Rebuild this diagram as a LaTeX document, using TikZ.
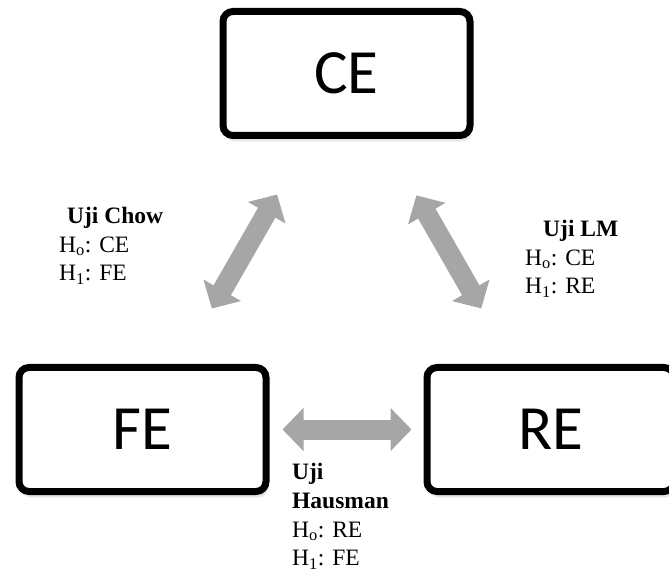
\documentclass[tikz,border=0pt]{standalone}
\usepackage{fontspec}
\setmainfont{Liberation Serif}
\newfontfamily\boxfont{Carlito}
\usetikzlibrary{positioning,calc,arrows.meta,shadows}
\definecolor{arrowgray}{RGB}{166,166,166}
\tikzset{ model/.style={draw,line width=7pt,rounded corners=10pt,minimum width=247pt,minimum height=124pt,fill=white,
    font=\boxfont\fontsize{63}{70}\selectfont,drop shadow={opacity=0.2,shadow xshift=2pt,shadow yshift=-6pt}} }
\tikzset{ uji/.style={draw=arrowgray,line width=20pt,{Triangle[width=42pt,length=21pt]}-{Triangle[width=42pt,length=21pt]}} }
\tikzset{ hyp/.style={align=left,anchor=north west,inner sep=0pt,font=\fontsize{23.5}{28.5}\selectfont} }

\begin{document}
\begin{tikzpicture}[x=1pt,y=1pt]
   \useasboundingbox (0,0) rectangle (669,576);
   \node[model] (fe) at (142.5,146.5) {FE};
   \node[model,right=154pt of fe] (re) {RE};
   \coordinate (mid) at ($(fe.north)!0.5!(re.north)$);
   \node[model,above=225pt of mid] (ce) {CE};
   \draw[uji,shorten <=64pt,shorten >=64pt] (fe) -- (ce);
   \draw[uji,shorten <=64pt,shorten >=65pt] (re) -- (ce);
   \draw[uji,shorten <=13pt,shorten >=12pt] (fe.east) -- (re.west);
   \node[hyp] (chow) at (59,369) {\hspace*{8pt}\textbf{Uji Chow}\\H\textsubscript{o}: CE\\H\textsubscript{1}: FE};
   \node[hyp] (lm) at (525,356) {\hspace*{18pt}\textbf{Uji LM}\\H\textsubscript{o}: CE\\H\textsubscript{1}: RE};
   \node[hyp,font=\fontsize{23.5}{28.8}\selectfont] (hausman) at (292,113) {\textbf{Uji}\\\textbf{Hausman}\\H\textsubscript{o}: RE\\H\textsubscript{1}: FE};
\end{tikzpicture}
\end{document}
